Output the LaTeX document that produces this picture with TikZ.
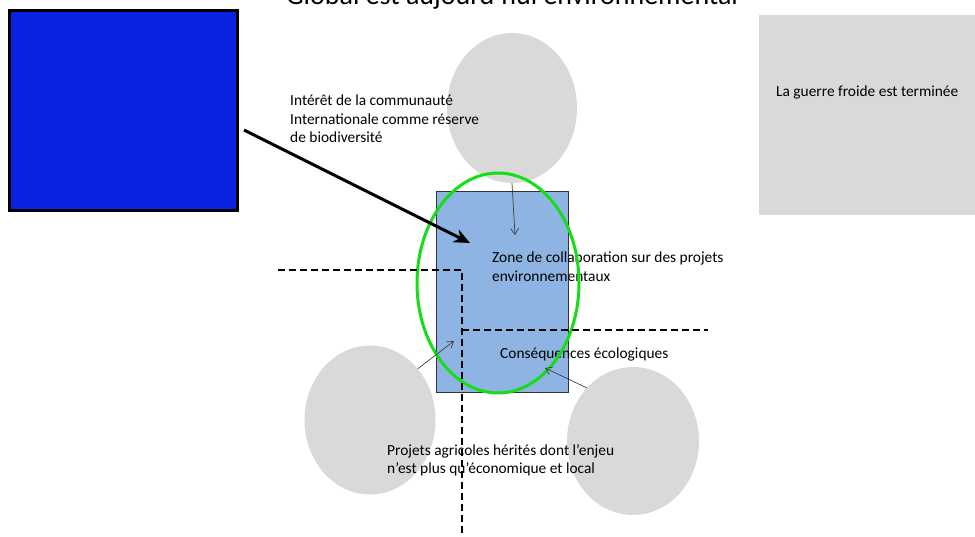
\documentclass[tikz,border=0pt]{standalone}
\usepackage{fontspec}
\setmainfont{Carlito}
\usetikzlibrary{positioning,arrows.meta,shapes.geometric}
\definecolor{deepblue}{RGB}{10,34,224}
\definecolor{paleblue}{RGB}{141,180,226}
\definecolor{blobgray}{RGB}{217,217,217}
\definecolor{ringgreen}{RGB}{22,222,22}

\begin{document}
\begin{tikzpicture}[x=1pt,y=-1pt,
  blob/.style={ellipse, fill=blobgray, inner sep=0pt, minimum width=132pt, minimum height=150pt},
  lbl/.style={align=left, anchor=north west, inner sep=0pt,
    font=\fontsize{15.4}{18.5}\selectfont},
  ptr/.style={-{Straight Barb[length=6pt,width=8pt]}, draw=black!75, line width=0.7pt},
  cut/.style={dash pattern=on 7pt off 4pt, line width=1.6pt}]
  \useasboundingbox (0,0) rectangle (975,536);

  % title, cut off by the page edge
  \node[anchor=base, inner sep=0pt, font=\fontsize{28}{32}\selectfont] (title) at (512,4)
    {Global est aujourd'hui environnemental};

  \node[draw, line width=3pt, fill=deepblue, anchor=north west, inner sep=0pt,
    minimum width=228pt, minimum height=200pt] (actor) at (8,9) {};
  \node[fill=blobgray, anchor=north west, inner sep=0pt,
    minimum width=216pt, minimum height=200pt] (context) at (759,15) {};
  \node[below=71pt of context.north, inner sep=0pt, font=\fontsize{15.4}{18.5}\selectfont]
    (contextlbl) {La guerre froide est terminée};

  \node[blob, minimum width=130pt, minimum height=150pt] (topblob) at (512,108) {};
  \node[blob, minimum width=131pt, minimum height=149pt] (leftblob) at (370,420) {};
  \node[blob, minimum width=132pt, minimum height=148pt] (rightblob) at (633,441) {};

  \node[draw=black!80, fill=paleblue, anchor=north west, inner sep=0pt,
    minimum width=132pt, minimum height=201pt] (zone) at (436,191) {};

  % texts
  \node[lbl] (interet) at (290,95)
    {Intérêt de la communauté\\Internationale comme réserve\\de biodiversité};
  \node[lbl] (collab) at (492,252)
    {Zone de collaboration sur des projets\\environnementaux};
  \node[lbl] (conseq) at (500,348) {Conséquences écologiques};
  \node[lbl] (agri) at (387,444)
    {Projets agricoles hérités dont l’enjeu\\n’est plus qu’économique et local};

  \node[ellipse, draw=ringgreen, line width=3pt, inner sep=0pt,
    minimum width=162pt, minimum height=220pt] (ring) at (498,283) {};

  % dashed borders
  \coordinate (cutW) at (278,270);
  \coordinate (cutNE) at (462,270);
  \coordinate (cutS) at (462,540);
  \coordinate (cutJ) at (462,330);
  \coordinate (cutE) at (708,330);
  \draw[cut] (cutW) -- (cutNE) -- (cutS);
  \draw[cut] (cutJ) -- (cutE);

  % arrows
  \coordinate (push) at (244,130);
  \coordinate (hit) at (470,243);
  \coordinate (tipT) at (515,235);
  \coordinate (tipL) at (454,341);
  \coordinate (tipR) at (545,368);
  \draw[-{Stealth[length=16pt,width=14pt,inset=5pt]}, line width=3pt] (push) -- (hit);
  \draw[ptr] (topblob.south) -- (tipT);
  \draw[ptr] (leftblob.47) -- (tipL);
  \draw[ptr] (rightblob.131) -- (tipR);
\end{tikzpicture}
\end{document}
